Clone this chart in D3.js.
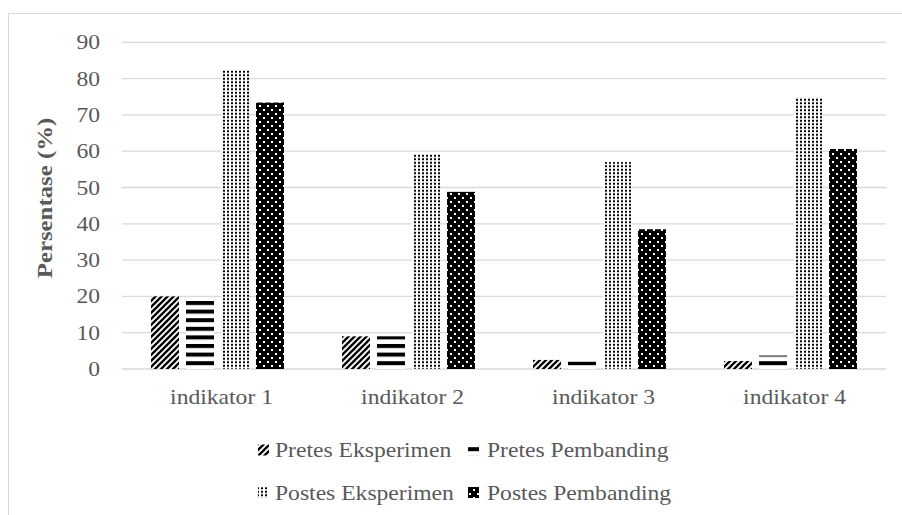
<!DOCTYPE html>
<html>
<head>
<meta charset="utf-8">
<script src="https://cdn.jsdelivr.net/npm/d3@7"></script>
<style>
  html, body { margin: 0; padding: 0; background: #fff; }
  svg { display: block; }
</style>
</head>
<body>
<svg id="chart" width="902" height="515"></svg>
<script>
const categories = ["indikator 1", "indikator 2", "indikator 3", "indikator 4"];
const seriesNames = ["Pretes Eksperimen", "Pretes Pembanding", "Postes Eksperimen", "Postes Pembanding"];
const pretesEksperimen = [20, 9, 2.5, 2.2];
const pretesPembanding = [19, 9, 2, 3.7];
const postesEksperimen = [82.4, 59.2, 57, 74.8];
const postesPembanding = [73.4, 48.8, 38.5, 60.6];
const yTicks = [0, 10, 20, 30, 40, 50, 60, 70, 80, 90];
const yTitle = "Persentase (%)";

const seriesValues = [pretesEksperimen, pretesPembanding, postesEksperimen, postesPembanding];
const patternIds = ["pDiag", "pHoriz", "pDots", "pInvDots"];

const svg = d3.select("#chart");
const W = 902, H = 515;
const plot = { left: 122, right: 886, top: 42.3, bottom: 369 };
const textColor = "#595959";
const gridColor = "#d9d9d9";
const fontFamily = "'Liberation Serif', 'Times New Roman', serif";
const sx = 1.18;

// patterns
const defs = svg.append("defs");
{
  const p = defs.append("pattern").attr("id", "pDiag").attr("patternUnits", "userSpaceOnUse")
    .attr("width", 6).attr("height", 6);
  p.append("rect").attr("width", 6).attr("height", 6).attr("fill", "#fff");
  p.append("path").attr("d", "M-2,8 L8,-2 M-5,5 L5,-5 M1,11 L11,1")
    .attr("stroke", "#000").attr("stroke-width", 2.3);
}
{
  const p = defs.append("pattern").attr("id", "pHoriz").attr("patternUnits", "userSpaceOnUse")
    .attr("width", 8).attr("height", 8.6);
  p.append("rect").attr("width", 8).attr("height", 8.6).attr("fill", "#fff");
  p.append("rect").attr("y", 0).attr("width", 8).attr("height", 4).attr("fill", "#000");
}
{
  const p = defs.append("pattern").attr("id", "pDots").attr("patternUnits", "userSpaceOnUse")
    .attr("width", 4).attr("height", 3.5);
  p.append("rect").attr("width", 4).attr("height", 3.5).attr("fill", "#fff");
  p.append("rect").attr("x", 1).attr("y", 0.75).attr("width", 2).attr("height", 2).attr("fill", "#000");
}
{
  const p = defs.append("pattern").attr("id", "pInvDots").attr("patternUnits", "userSpaceOnUse")
    .attr("width", 8).attr("height", 8);
  p.append("rect").attr("width", 8).attr("height", 8).attr("fill", "#000");
  p.append("rect").attr("x", 1).attr("y", 1).attr("width", 2).attr("height", 2).attr("fill", "#fff");
  p.append("rect").attr("x", 5).attr("y", 5).attr("width", 2).attr("height", 2).attr("fill", "#fff");
}

svg.append("rect").attr("width", W).attr("height", H).attr("fill", "#fff");
// outer chart border (top and left visible)
svg.append("path").attr("d", `M8.5,${H} L8.5,13.5 L${W},13.5`)
  .attr("fill", "none").attr("stroke", gridColor).attr("stroke-width", 1);

const x0 = d3.scaleBand().domain(categories).range([plot.left, plot.right]).padding(0);
const x1 = d3.scaleBand().domain(seriesNames).range([29, x0.bandwidth() - 29]).paddingInner(0.2).paddingOuter(0);
const y = d3.scaleLinear().domain([0, 90]).range([plot.bottom, plot.top]);

// gridlines
svg.append("g").selectAll("line").data(yTicks).join("line")
  .attr("x1", plot.left).attr("x2", plot.right)
  .attr("y1", d => y(d)).attr("y2", d => y(d))
  .attr("stroke", gridColor).attr("stroke-width", 1.3);

// y tick labels
svg.append("g").selectAll("text").data(yTicks).join("text")
  .attr("transform", d => `translate(100,${y(d)}) scale(${sx},1)`)
  .attr("text-anchor", "end").attr("dy", "0.35em")
  .attr("font-family", fontFamily).attr("font-size", 20).attr("fill", textColor)
  .text(d => d);

// y title
svg.append("text")
  .attr("transform", `translate(52,198) rotate(-90) scale(1.24,1)`)
  .attr("text-anchor", "middle")
  .attr("font-family", fontFamily).attr("font-size", 20).attr("font-weight", "bold")
  .attr("fill", textColor).text(yTitle);

// bars
const groups = svg.append("g").selectAll("g").data(categories).join("g")
  .attr("transform", c => `translate(${x0(c)},0)`);
groups.selectAll("rect")
  .data((c, ci) => seriesNames.map((s, si) => ({ s, si, v: seriesValues[si][ci] })))
  .join("rect")
  .attr("x", d => x1(d.s))
  .attr("width", x1.bandwidth())
  .attr("y", d => y(d.v))
  .attr("height", d => y(0) - y(d.v))
  .attr("fill", d => `url(#${patternIds[d.si]})`);

// category labels
svg.append("g").selectAll("text").data(categories).join("text")
  .attr("transform", c => `translate(${x0(c) + x0.bandwidth() / 2 + 4},404) scale(${sx},1)`)
  .attr("text-anchor", "middle")
  .attr("font-family", fontFamily).attr("font-size", 20).attr("fill", textColor)
  .text(c => c);

// legend
const legendPos = [
  { sw: 258, tx: 275, cy: 450 },
  { sw: 468, tx: 487, cy: 450 },
  { sw: 258, tx: 275, cy: 492.5 },
  { sw: 468, tx: 487, cy: 492.5 }
];
const lg = svg.append("g").selectAll("g").data(seriesNames).join("g");
lg.append("rect")
  .attr("x", (d, i) => legendPos[i].sw)
  .attr("y", (d, i) => legendPos[i].cy - 5.5)
  .attr("width", 11).attr("height", 11)
  .attr("fill", (d, i) => `url(#${patternIds[i]})`);
lg.append("text")
  .attr("transform", (d, i) => `translate(${legendPos[i].tx},${legendPos[i].cy}) scale(${sx},1)`)
  .attr("dy", "0.35em")
  .attr("font-family", fontFamily).attr("font-size", 20).attr("fill", textColor)
  .text(d => d);
</script>
</body>
</html>
